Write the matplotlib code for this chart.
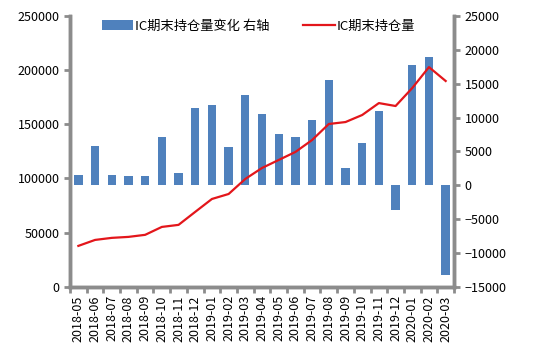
import matplotlib
matplotlib.use("Agg")
import matplotlib.pyplot as plt
import numpy as np

plt.rcParams['font.family'] = ['Noto Sans CJK SC', 'DejaVu Sans']
plt.rcParams['font.size'] = 9

months = ['2018-05', '2018-06', '2018-07', '2018-08', '2018-09', '2018-10',
          '2018-11', '2018-12', '2019-01', '2019-02', '2019-03', '2019-04',
          '2019-05', '2019-06', '2019-07', '2019-08', '2019-09', '2019-10',
          '2019-11', '2019-12', '2020-01', '2020-02', '2020-03']

# IC期末持仓量变化 (right axis)
change = [1500, 5750, 1500, 1300, 1300, 7200, 1800, 11400, 11800, 5600,
          13300, 10500, 7500, 7100, 9600, 15500, 2500, 6300, 10900, -3700,
          17700, 19000, -13300]

# IC期末持仓量 (left axis)
holding = [37800, 43300, 45200, 46100, 48000, 55300, 57200, 69200, 81100,
           85700, 99600, 109700, 117100, 124500, 135500, 150300, 152100,
           158600, 169600, 166900, 183500, 202800, 190000]

grey = '#8c8c8c'
x = np.arange(len(months))

fig = plt.figure(figsize=(5.47, 3.55), dpi=100)
ax = fig.add_axes([0.128, 0.192, 0.702, 0.763])
ax2 = ax.twinx()

bars = ax2.bar(x, change, width=0.5, color='#4f81bd', label='IC期末持仓量变化 右轴')
line, = ax.plot(x, holding, color='#e3161b', lw=1.6, label='IC期末持仓量')
ax.set_zorder(ax2.get_zorder() + 1)
ax.patch.set_visible(False)

ax.set_xlim(-0.5, len(months) - 0.5)
ax.set_ylim(0, 250000)
ax.set_yticks(np.arange(0, 250001, 50000))
ax2.set_ylim(-15000, 25000)
ax2.set_yticks(np.arange(-15000, 25001, 5000))

ax.set_xticks(x)
ax.set_xticklabels(months, rotation=90)
ax.set_xticks(np.arange(-0.5, len(months), 1), minor=True)
ax.tick_params(axis='x', which='major', length=0, pad=6)
ax.tick_params(axis='x', which='minor', length=4, width=2, color=grey, direction='out')

for a in (ax, ax2):
    a.tick_params(axis='y', length=4, width=2, color=grey, direction='out')
    for s in a.spines.values():
        s.set_color(grey)
        s.set_linewidth(2.5)
    a.spines['top'].set_visible(False)

ax.legend([bars, line], [bars.get_label(), line.get_label()],
          loc='upper center', bbox_to_anchor=(0.49, 1.03), ncol=2,
          frameon=False, columnspacing=2.6, handlelength=2.4, handletextpad=0.1,
          fontsize=9.5)

fig.savefig('out.png', dpi=100)
